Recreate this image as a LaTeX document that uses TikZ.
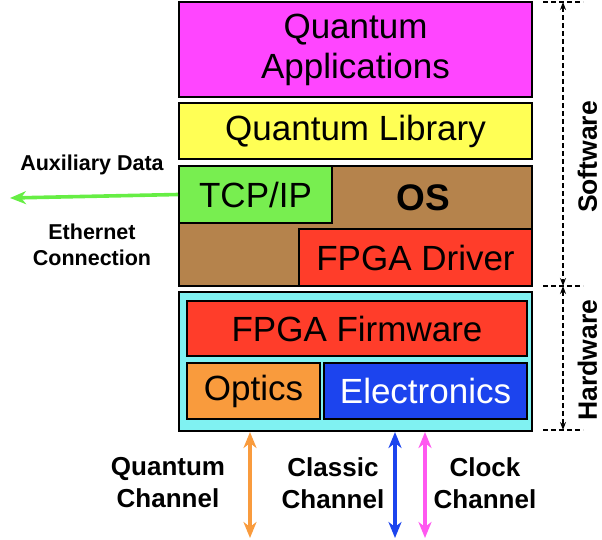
\documentclass[tikz,border=0pt]{standalone}
\usepackage{fontspec}
\setmainfont{Liberation Sans}
\usetikzlibrary{arrows.meta}

\definecolor{appmag}{HTML}{FF45FF}
\definecolor{libyel}{HTML}{FFFF55}
\definecolor{osbrown}{HTML}{B5834C}
\definecolor{tcpgreen}{HTML}{78EE50}
\definecolor{fpgared}{HTML}{FF3D2A}
\definecolor{hwcyan}{HTML}{80F2F2}
\definecolor{optorange}{HTML}{F99B3D}
\definecolor{elecblue}{HTML}{1C44EE}
\definecolor{clkpink}{HTML}{FF58F0}
\definecolor{auxgreen}{HTML}{66EE44}

\begin{document}
\begin{tikzpicture}[x=1pt,y=-1pt,
    layer/.style={draw=black, line width=2pt, inner sep=0pt, align=center,
        font=\fontsize{35}{40}\selectfont},
    side/.style={font=\fontsize{21.5}{26}\selectfont\bfseries, align=center},
    chan/.style={font=\fontsize{26}{32}\selectfont\bfseries, align=center},
    link/.style={line width=3.6pt, {Stealth[length=16pt,width=13pt,inset=5pt]}-{Stealth[length=16pt,width=13pt,inset=5pt]}},
    dim/.style={dash pattern=on 5pt off 3pt, line width=1.6pt},
    dimarr/.style={dash pattern=on 5pt off 3pt, line width=1.2pt, {Stealth[length=8pt,width=6pt]}-{Stealth[length=8pt,width=6pt]}}]
    \useasboundingbox (0,0) rectangle (602,539);

    % software stack
    \node[layer, fill=appmag, minimum width=353, minimum height=95] (apps) at (355.5,49.5) {\raisebox{-6pt}{\shortstack{Quantum\\[5pt]Applications}}};
    \node[layer, fill=libyel, minimum width=353, minimum height=56] (lib) at (355.5,131) {Quantum Library};
    \node[layer, fill=osbrown, minimum width=353, minimum height=120] (os) at (355.5,226) {};
    \node[layer, fill=tcpgreen, minimum width=153, minimum height=57] (tcp) at (255.5,194.5) {TCP/IP};
    \node[layer, fill=fpgared, minimum width=233, minimum height=57] (driver) at (415.5,257.5) {FPGA Driver};
    \node[font=\fontsize{37}{40}\selectfont\bfseries] (oslabel) at (423,198) {OS};

    % hardware stack
    \node[layer, fill=hwcyan, minimum width=353, minimum height=139] (hw) at (355.5,361.5) {};
    \node[layer, fill=fpgared, minimum width=340, minimum height=55] (fw) at (357,328.5) {FPGA Firmware};
    \node[layer, fill=optorange, minimum width=133, minimum height=56] (optics) at (253.5,391) {Optics};
    \node[layer, fill=elecblue, text=white, minimum width=203, minimum height=56] (elec) at (425.5,391) {Electronics};

    % ethernet side
    \coordinate (auxend) at (10,198);
    \draw[auxgreen, line width=3.6pt, -{Stealth[length=16pt,width=13pt,inset=5pt]}] (tcp.west) -- (auxend);
    \node[side] (aux) at (92,165) {Auxiliary Data};
    \node[side] (eth) at (92,245) {Ethernet\\Connection};

    % channels
    \coordinate (qend) at (250,538);
    \coordinate (cend) at (395,538);
    \coordinate (kend) at (425,538);
    \draw[link, optorange] (hw.south -| qend) -- (qend);
    \draw[link, elecblue] (hw.south -| cend) -- (cend);
    \draw[link, clkpink] (hw.south -| kend) -- (kend);
    \node[chan] (qchan) at (168,483) {Quantum\\Channel};
    \node[chan] (cchan) at (333,483) {Classic\\Channel};
    \node[chan] (kchan) at (485,483) {Clock\\Channel};

    % software / hardware extent
    \coordinate (swtop) at (563,2);
    \coordinate (swbot) at (563,286);
    \coordinate (hwbot) at (563,430);
    \draw[dim] (543,2) -- (583,2);
    \draw[dim] (543,286) -- (583,286);
    \draw[dim] (543,430) -- (583,430);
    \draw[dimarr] (swtop) -- (swbot);
    \draw[dimarr] (swbot) -- (hwbot);
    \node[rotate=90, font=\fontsize{26.5}{30}\selectfont\bfseries] (swlabel) at (587.5,157) {Software};
    \node[rotate=90, font=\fontsize{26.5}{30}\selectfont\bfseries] (hwlabel) at (587.5,360) {Hardware};
\end{tikzpicture}
\end{document}
